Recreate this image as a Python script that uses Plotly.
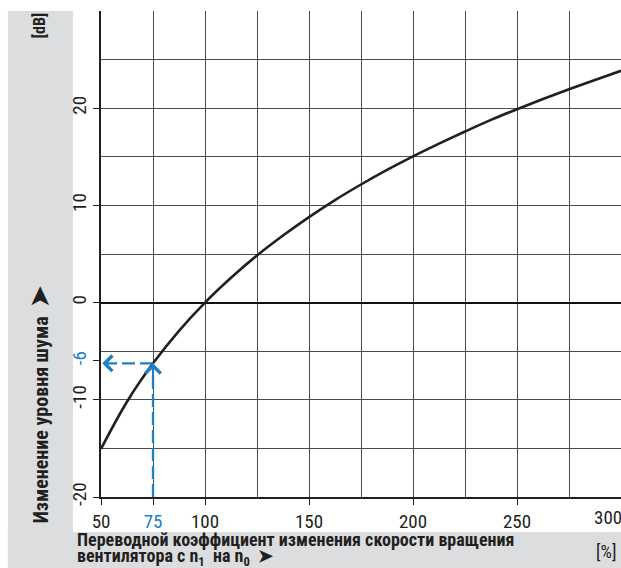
import plotly.graph_objects as go

# Data
speed_pct = [50, 62.5, 75, 87.5, 100, 112.5, 125, 137.5, 150, 162.5, 175, 187.5,
             200, 212.5, 225, 237.5, 250, 262.5, 275, 287.5, 300]
noise_db = [-15.05, -10.2, -6.25, -2.9, 0.0, 2.55, 4.85, 6.9, 8.8, 10.55, 12.15, 13.65,
            15.05, 16.35, 17.6, 18.8, 19.9, 20.95, 21.95, 22.9, 23.85]

example_x = 75
example_y = -6.25

x_tick_vals = [50, 75, 100, 150, 200, 250, 300]
x_tick_text = ["50", "<span style='color:#1f7fc4'>75</span>", "100", "150", "200", "250", ""]
y_tick_vals = [-20, -10, -6, 0, 10, 20]
y_tick_text = ["-20", "-10", "<span style='color:#1f7fc4'>-6</span>", "0", "10", "20"]

BLUE = "#1f7fc4"
GRAY_BG = "#dcdddf"
INK = "#231f20"
FONT = "Liberation Sans Narrow, Roboto Condensed, Arial Narrow, Liberation Sans, Arial"

fig = go.Figure()

fig.add_trace(go.Scatter(
    x=speed_pct, y=noise_db, mode="lines",
    line=dict(color=INK, width=2.6, shape="spline", smoothing=1.0),
    hoverinfo="skip", showlegend=False,
))

# dashed example path
fig.add_trace(go.Scatter(
    x=[example_x, example_x, None, example_x, 50],
    y=[-20, example_y, None, example_y, example_y],
    mode="lines",
    line=dict(color=BLUE, width=2.3, dash="13px,5px"),
    hoverinfo="skip", showlegend=False,
))

# arrowheads (chevrons)
fig.add_annotation(x=example_x, y=example_y, ax=example_x, ay=example_y - 1.5,
                   xref="x", yref="y", axref="x", ayref="y", text="",
                   showarrow=True, arrowhead=4, arrowsize=1.5, arrowwidth=2, arrowcolor=BLUE)
fig.add_annotation(x=50.6, y=example_y, ax=54, ay=example_y,
                   xref="x", yref="y", axref="x", ayref="y", text="",
                   showarrow=True, arrowhead=4, arrowsize=1.5, arrowwidth=2, arrowcolor=BLUE)

# gray background bands (decoration)
fig.add_shape(type="rect", xref="paper", yref="paper", x0=-0.179, x1=-0.054, y0=-0.146, y1=1.0,
              fillcolor=GRAY_BG, line_width=0, layer="below")
fig.add_shape(type="rect", xref="paper", yref="paper", x0=-0.179, x1=1.0, y0=-0.146, y1=-0.072,
              fillcolor=GRAY_BG, line_width=0, layer="below")

# axis titles
fig.add_annotation(xref="paper", yref="paper", x=-0.118, y=0.19,
                   text="<b>Изменение уровня шума  <span style='font-size:25px'>➤</span></b>",
                   textangle=-90, showarrow=False, font=dict(family=FONT, size=20, color=INK),
                   xanchor="center", yanchor="middle")
fig.add_annotation(xref="paper", yref="paper", x=-0.118, y=0.97, text="<b>[dB]</b>",
                   textangle=-90, showarrow=False, font=dict(family=FONT, size=16, color=INK),
                   xanchor="center", yanchor="middle")
fig.add_annotation(xref="paper", yref="paper", x=-0.05, y=-0.087,
                   text="<b>Переводной коэффициент изменения скорости вращения</b>",
                   showarrow=False, font=dict(family=FONT, size=18, color=INK),
                   xanchor="left", yanchor="middle")
fig.add_annotation(xref="paper", yref="paper", x=-0.05, y=-0.124,
                   text="<b>вентилятора с n<sub>1</sub>  на n<sub>0</sub>  ➤</b>",
                   showarrow=False, font=dict(family=FONT, size=18, color=INK),
                   xanchor="left", yanchor="middle")
fig.add_annotation(xref="paper", yref="paper", x=0.972, y=-0.113, text="[%]",
                   showarrow=False, font=dict(family=FONT, size=18, color=INK),
                   xanchor="center", yanchor="middle")
fig.add_annotation(xref="x", yref="paper", x=300, y=-0.014, text="300", xshift=-13,
                   showarrow=False, font=dict(family=FONT, size=19, color=INK),
                   xanchor="center", yanchor="top")

fig.update_xaxes(
    range=[50, 300], tickvals=x_tick_vals, ticktext=x_tick_text, automargin=False,
    showgrid=False, ticks="outside", ticklen=6, tickcolor=INK,
    showline=True, linecolor=INK, linewidth=1.5, zeroline=False,
    tickfont=dict(family=FONT, size=19, color=INK),
    minor=dict(dtick=25, tick0=50, showgrid=True, gridcolor="#4d4d4d", gridwidth=1.2, ticks=""),
    fixedrange=True,
)
fig.update_yaxes(
    range=[-20, 30], tickvals=y_tick_vals, ticktext=y_tick_text, tickangle=-90, automargin=False,
    showgrid=False, ticks="outside", ticklen=6, tickcolor=INK,
    showline=True, linecolor=INK, linewidth=1.5,
    zeroline=True, zerolinecolor="#111111", zerolinewidth=1.6,
    tickfont=dict(family=FONT, size=19, color=INK),
    minor=dict(dtick=5, tick0=-20, showgrid=True, gridcolor="#4d4d4d", gridwidth=1.2, ticks=""),
    fixedrange=True,
)

fig.update_layout(
    width=621, height=568,
    margin=dict(l=101, r=0, t=11, b=71),
    plot_bgcolor="white", paper_bgcolor="white",
    showlegend=False,
)

fig.write_html(
    "out.html",
    config={"displayModeBar": False},
    post_script="document.body.style.margin='0';document.body.style.overflow='hidden';",
)
